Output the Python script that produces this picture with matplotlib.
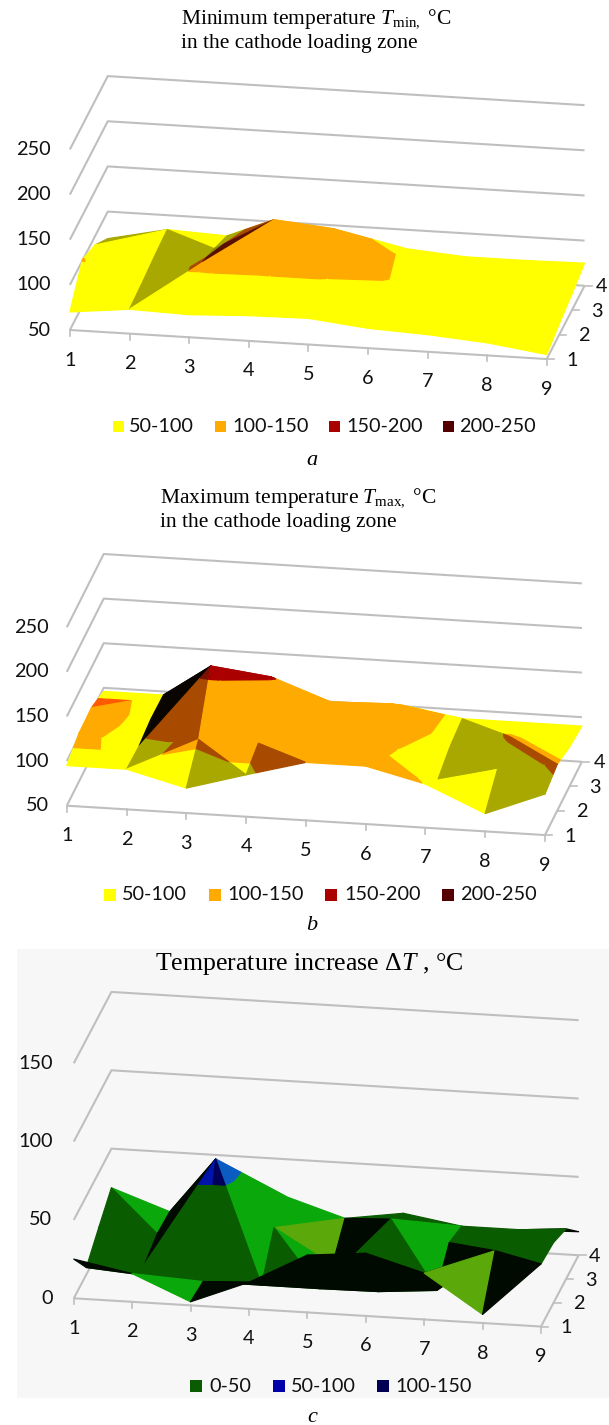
#!/usr/bin/env python3
import matplotlib
matplotlib.use("Agg")  # headless
import matplotlib.pyplot as plt
from matplotlib.patches import Rectangle

plt.rcParams["mathtext.fontset"] = "custom"
plt.rcParams["mathtext.rm"] = "Liberation Serif"
plt.rcParams["mathtext.it"] = "Liberation Serif:italic"

xs = [1, 2, 3, 4, 5, 6, 7, 8, 9]
ys = [1, 2, 3, 4]

# surface values, one row per y = 1..4
z_a = [
    [70, 77, 75, 78, 79, 72, 69, 64, 55],
    [101, 79, 105, 104, 104, 102, 88, 75, 62],
    [90, 82, 94, 130, 124, 100.5, 85, 76, 68],
    [70, 84, 81, 90, 88, 79, 74, 74, 75],
]
z_b = [
    [95, 95, 78, 97, 115, 115, 99, 70, 96],
    [104, 93, 105, 105, 130, 105, 76, 92, 102],
    [105, 97, 160, 152, 128, 130, 86, 101.5, 94],
    [96, 96, 95, 105, 97, 101, 90, 90, 90],
]
z_c = [
    [25, 18, 2.3, 17, 36.6, 40, 29.6, 5.5, 40],
    [4.5, 9, 0, 0, 0, 0.4, 3.4, 31, 38.5],
    [15, 13, 63, 21.5, 0, 31.5, 18.7, 20, 32],
    [25, 12, 15, 26, 14.5, 20, 14, 14, 15],
]

ticks_ab = [50, 100, 150, 200, 250]
ticks_c = [0, 50, 100, 150]
labels_ab = ["50-100", "100-150", "150-200", "200-250"]
labels_c = ["0-50", "50-100", "100-150"]

# how each grid cell is cut (/ or \) and the shade of its two triangles
cells_a = [
    r"/LL \LM /LL /LL /LL /LL /LL /LL".split(),
    r"/LL \MM \LD /LL /LL /LL /LL /LL".split(),
    r"\LM /ML /ML /LL \LL /LL /LL /LL".split(),
]
cells_b = [
    r"/LL \LM /ML /ML /LL /LL \LL /MM".split(),
    r"\LL \MK /LL \LL /LL \LL \MM /ML".split(),
    r"\LS /KK /LL /LL /LL \LL /ML /LL".split(),
]
cells_c = [
    r"/kd \ld /kk /kk /kk /kk \yk /kd".split(),
    r"/dd \ak /dl /dl \dk /dl /kd /dd".split(),
    r"/dl /kk \ll \yl /kd \ld /dd /dk".split(),
]

# shade -> colour per band
shades_ab = {
    "L": ["#ffff00", "#ffaa00", "#aa0000", "#550000"],
    "M": ["#a8a800", "#a84a00", "#7a1000", "#550000"],
    "D": ["#8a8a00", "#5a1000", "#400000", "#300000"],
    "S": ["#ffff00", "#ff5a00", "#aa0000", "#550000"],
    "K": ["#0a0a00", "#0a0500", "#000000", "#000000"],
}
shades_c = {
    "l": ["#0aa80a", "#0a5cc0", "#000055"],
    "d": ["#0a5c00", "#00005a", "#000055"],
    "a": ["#0a5c00", "#0014aa", "#000055"],
    "y": ["#5aa80a", "#0a5cc0", "#000055"],
    "k": ["#000a00", "#000a00", "#000000"],
}
legend_ab = ["#ffff00", "#ffaa00", "#aa0000", "#550000"]
legend_c = ["#0a5c00", "#0000aa", "#000055"]

GRID = "#bfbfbf"
NUM_FONT = "Lato"
SERIF = "Liberation Serif"

fig = plt.figure(figsize=(6.09, 14.25), dpi=100)
ax = fig.add_axes([0, 0, 1, 1])
ax.set_xlim(0, 609)
ax.set_ylim(1425, 0)
ax.axis("off")

ax.add_patch(Rectangle((17, 949), 592, 449, fc="#f7f7f7", ec="none", zorder=0))


def clip_band(tri, lo, hi):
    # Sutherland-Hodgman on z, both band limits
    poly = list(tri)
    for limit, keep_above in ((lo, True), (hi, False)):
        out = []
        for i in range(len(poly)):
            p, q = poly[i], poly[(i + 1) % len(poly)]
            p_in = p[2] >= limit if keep_above else p[2] <= limit
            q_in = q[2] >= limit if keep_above else q[2] <= limit
            if p_in:
                out.append(p)
            if p_in != q_in:
                t = (limit - p[2]) / (q[2] - p[2])
                out.append((p[0] + t * (q[0] - p[0]), p[1] + t * (q[1] - p[1]), limit))
        poly = out
        if not poly:
            break
    return poly


def draw_panel(z, cells, shades, ticks, origin, dx, dy, dz, lab_x, y_lab_max):
    zbase = ticks[0]

    def proj(x, y, v):
        px = origin[0] + dx[0] * (x - 1) + dy[0] * (y - 1)
        py = origin[1] + dx[1] * (x - 1) + dy[1] * (y - 1) - dz * (v - zbase)
        return px, py

    # walls
    for t in ticks:
        pts = [proj(1, 1, t), proj(1, 4, t), proj(9, 4, t)]
        ax.plot(*zip(*pts), color=GRID, lw=1.5, zorder=1, solid_capstyle="butt")
        ax.text(lab_x, proj(1, 1, t)[1], str(t), ha="right", va="center",
                fontsize=14.3, family=NUM_FONT, color="#111111", zorder=6)

    # floor edges
    pts = [proj(1, 1, zbase), proj(9, 1, zbase), proj(9, 4, zbase)]
    ax.plot(*zip(*pts), color=GRID, lw=1.5, zorder=1, solid_capstyle="butt")

    for x in xs:
        px, py = proj(x, 1, zbase)
        ax.plot([px, px], [py, py + 6], color=GRID, lw=1.2, zorder=1)
        ax.text(px, py + 30, str(x), ha="center", va="center",
                fontsize=14.3, family=NUM_FONT, color="#111111", zorder=6)
    for y in ys:
        px, py = proj(9, y, zbase)
        ax.plot([px, px + 7], [py, py], color=GRID, lw=1.2, zorder=1)
        ax.text(min(px + 25, y_lab_max), py + 1, str(y), ha="center", va="center",
                fontsize=14.3, family=NUM_FONT, color="#111111", zorder=6)

    # surface, painted from the far corner to the near one
    n = 0
    for j in range(2, -1, -1):
        for i in range(8):
            cut, first, second = cells[j][i][0], cells[j][i][1], cells[j][i][2]
            p00 = (i + 1, j + 1, z[j][i])
            p10 = (i + 2, j + 1, z[j][i + 1])
            p01 = (i + 1, j + 2, z[j + 1][i])
            p11 = (i + 2, j + 2, z[j + 1][i + 1])
            if cut == "/":
                tri_a, tri_b = (p00, p10, p01), (p10, p11, p01)
            else:
                tri_a, tri_b = (p00, p10, p11), (p00, p11, p01)
            for tri, code in ((tri_b, second), (tri_a, first)):
                for b, col in enumerate(shades[code]):
                    lo = ticks[b]
                    hi = ticks[b + 1] if b + 1 < len(ticks) else lo + 50
                    poly = clip_band(tri, lo, hi)
                    if len(poly) >= 3:
                        n += 1
                        ax.fill(*zip(*[proj(*p) for p in poly]), fc=col, ec=col,
                                lw=0.9, joinstyle="round", zorder=2 + n * 1e-4)


def legend(labels, colors, sw_x, text_x, y0, size):
    for lab, c, sx, tx in zip(labels, colors, sw_x, text_x):
        ax.add_patch(Rectangle((sx, y0), size, size, fc=c, ec="none", zorder=5))
        ax.text(tx, y0 + size / 2, lab, ha="left", va="center", fontsize=14.3,
                family=NUM_FONT, color="#111111", zorder=6)


draw_panel(z_a, cells_a, shades_ab, ticks_ab, (69.9, 330), (59.6, 3.63), (12.62, -24.43),
           0.903, 50.5, 602)
draw_panel(z_b, cells_b, shades_ab, ticks_ab, (66.8, 805.7), (59.77, 3.67), (12.31, -24.43),
           0.892, 48.5, 600)
draw_panel(z_c, cells_c, shades_c, ticks_c, (73.8, 1298.3), (58.4, 3.53), (12.54, -23.77),
           1.567, 52.4, 595)

legend(labels_ab, legend_ab, [113, 215, 329, 443], [129, 232, 346, 459], 420.5, 11)
legend(labels_ab, legend_ab, [104, 209, 325, 442], [122, 227, 344, 460], 888.5, 12)
legend(labels_c, legend_c, [190, 273, 377], [209, 290.5, 395], 1380, 12)

tfont = dict(family=SERIF, fontsize=15.5, color="black", ha="left", va="center", zorder=6)
ax.text(181, 19, r"Minimum temperature $T_{\mathrm{min,}}$ °C", **tfont)
ax.text(181, 43, "in the cathode loading zone", **tfont)
ax.text(160, 498, r"Maximum temperature $T_{\mathrm{max,}}$ °C", **tfont)
ax.text(160, 522, "in the cathode loading zone", **tfont)
ax.text(155, 964, r"Temperature increase $\Delta T$ , °C", family=SERIF, fontsize=18.6,
        color="black", ha="left", va="center", zorder=6)

lfont = dict(family=SERIF, fontsize=16, style="italic", ha="center", va="center", zorder=6)
ax.text(312, 460, "a", **lfont)
ax.text(312, 925, "b", **lfont)
ax.text(312, 1418, "c", **lfont)

fig.savefig("out.png", dpi=100)
plt.close(fig)
